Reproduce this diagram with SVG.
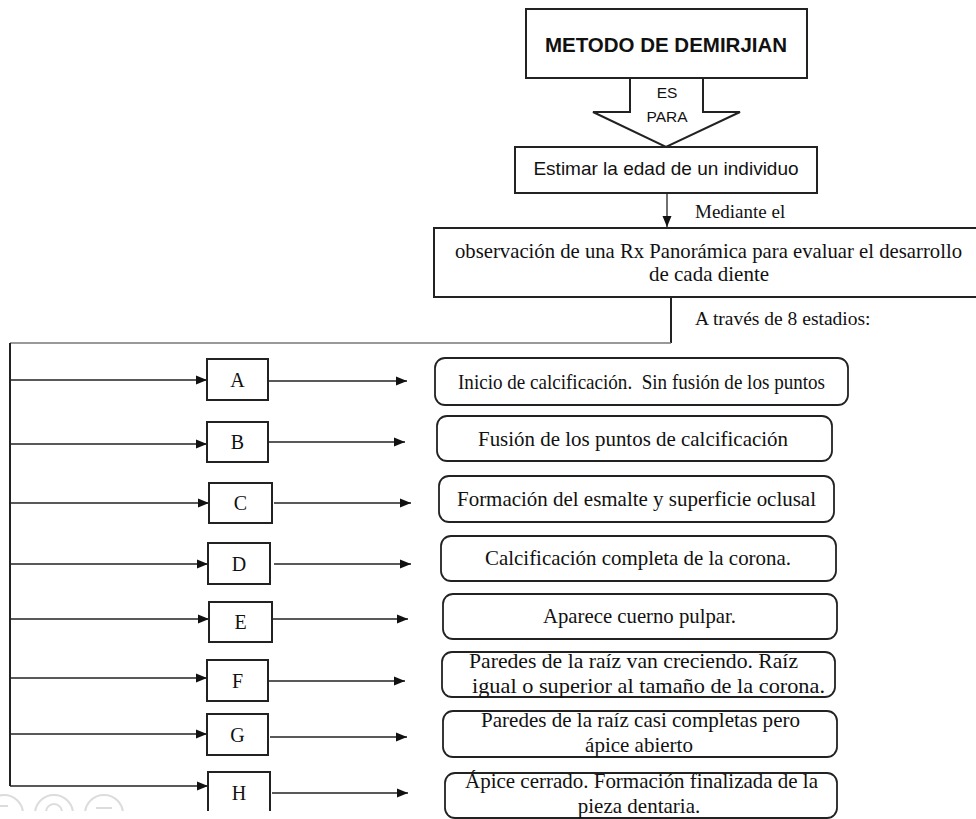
<svg xmlns="http://www.w3.org/2000/svg" width="976" height="819" viewBox="0 0 976 819">
<defs>
<marker id="ah" markerUnits="userSpaceOnUse" markerWidth="12" markerHeight="10" refX="11" refY="5" orient="auto">
<path d="M0,0.5 L11,5 L0,9.5 Z" fill="#111"/>
</marker>
<clipPath id="wm"><rect x="0" y="780" width="160" height="31"/></clipPath>
</defs>
<style>
.box{fill:#fff;stroke:#222;stroke-width:2}
.rbox{fill:#fff;stroke:#222;stroke-width:1.8}
.sans{font-family:"Liberation Sans",Arial,sans-serif;fill:#111}
.serif{font-family:"Liberation Serif","Times New Roman",serif;fill:#111}
.desc{font-size:21px}
.let{font-size:20px;text-anchor:middle}
.con{fill:none;stroke:#222;stroke-width:1.3}
.arr{fill:none;stroke:#222;stroke-width:1.3;marker-end:url(#ah)}
</style>
<rect width="976" height="819" fill="#fff"/>

<g id="watermark" clip-path="url(#wm)" fill="none" stroke="#dcdcdc" stroke-width="2">
<circle cx="4" cy="814" r="19"/>
<circle cx="54" cy="814" r="19"/>
<circle cx="54" cy="812" r="8"/>
<circle cx="104" cy="814" r="19"/>
<path d="M96,808 H112"/>
<path d="M0,806 H8"/>
</g>

<g id="metodo">
<rect class="box" x="526" y="9" width="281" height="69"/>
<text class="sans" x="666" y="52" font-size="20.5" font-weight="bold" text-anchor="middle">METODO DE DEMIRJIAN</text>
</g>

<g id="es-para">
<polygon points="630,78 630,112 593,112 666,147 740,112 703,112 703,78" fill="#fff" stroke="#222" stroke-width="2"/>
<text class="sans" x="667" y="98" font-size="15.5" text-anchor="middle">ES</text>
<text class="sans" x="667" y="122" font-size="15.5" text-anchor="middle">PARA</text>
</g>

<g id="estimar">
<rect class="box" x="515" y="147" width="302" height="46"/>
<text class="sans" x="666" y="175" font-size="19" text-anchor="middle">Estimar la edad de un individuo</text>
</g>

<g id="observacion">
<rect class="box" x="434" y="228" width="546" height="69"/>
<text class="serif desc" x="455" y="258" textLength="507" lengthAdjust="spacingAndGlyphs">observación de una Rx Panorámica para evaluar el desarrollo</text>
<text class="serif desc" x="709" y="281" text-anchor="middle">de cada diente</text>
</g>

<g id="connectors">
<line class="arr" x1="667" y1="193" x2="667" y2="227"/>
<line x1="671" y1="297" x2="671" y2="343" stroke="#222" stroke-width="2"/>
<line x1="671" y1="343" x2="10" y2="343" stroke="#777" stroke-width="1.5"/>
<line x1="10" y1="343" x2="10" y2="786" stroke="#222" stroke-width="2"/>
<line class="arr" x1="10" y1="380" x2="207" y2="380"/>
<line class="arr" x1="269" y1="381" x2="407" y2="381"/>
<line class="arr" x1="10" y1="444" x2="207" y2="444"/>
<line class="arr" x1="268" y1="442" x2="405" y2="442"/>
<line class="arr" x1="10" y1="503" x2="209" y2="503"/>
<line class="arr" x1="274" y1="503" x2="411" y2="503"/>
<line class="arr" x1="10" y1="564" x2="208" y2="564"/>
<line class="arr" x1="274" y1="564" x2="411" y2="564"/>
<line class="arr" x1="10" y1="619" x2="209" y2="619"/>
<line class="arr" x1="272" y1="619" x2="408" y2="619"/>
<line class="arr" x1="10" y1="678" x2="207" y2="678"/>
<line class="arr" x1="268" y1="681" x2="405" y2="681"/>
<line class="arr" x1="10" y1="734" x2="207" y2="734"/>
<line class="arr" x1="270" y1="737" x2="407" y2="737"/>
<line class="arr" x1="10" y1="786" x2="208" y2="786"/>
<line class="arr" x1="272" y1="793" x2="408" y2="793"/>
<text class="serif" x="695" y="218" font-size="19">Mediante el</text>
<text class="serif" x="695" y="325" font-size="19.5">A través de 8 estadios:</text>
</g>

<g id="stage-A">
<rect class="box" x="207" y="359" width="61" height="41"/>
<text class="serif let" x="237.5" y="387">A</text>
</g>
<g id="stage-B">
<rect class="box" x="207" y="422" width="61" height="40"/>
<text class="serif let" x="237.5" y="449">B</text>
</g>
<g id="stage-C">
<rect class="box" x="209" y="483" width="63" height="40"/>
<text class="serif let" x="240.5" y="510">C</text>
</g>
<g id="stage-D">
<rect class="box" x="208" y="543" width="62" height="41"/>
<text class="serif let" x="239" y="571">D</text>
</g>
<g id="stage-E">
<rect class="box" x="209" y="602" width="63" height="40"/>
<text class="serif let" x="240.5" y="629">E</text>
</g>
<g id="stage-F">
<rect class="box" x="207" y="660" width="61" height="41"/>
<text class="serif let" x="237.5" y="688">F</text>
</g>
<g id="stage-G">
<rect class="box" x="207" y="714" width="61" height="41"/>
<text class="serif let" x="237.5" y="742">G</text>
</g>
<g id="stage-H">
<path d="M208,811 V772 H270 V811" fill="#fff" stroke="#222" stroke-width="2"/>
<text class="serif let" x="239" y="800">H</text>
</g>

<g id="desc-A">
<rect class="rbox" x="435" y="358" width="413" height="47" rx="10"/>
<text class="serif desc" x="458" y="389" textLength="367" lengthAdjust="spacingAndGlyphs" xml:space="preserve">Inicio de calcificación.  Sin fusión de los puntos</text>
</g>
<g id="desc-B">
<rect class="rbox" x="437" y="416" width="395" height="45" rx="10"/>
<text class="serif desc" x="478" y="446" textLength="310" lengthAdjust="spacingAndGlyphs">Fusión de los puntos de calcificación</text>
</g>
<g id="desc-C">
<rect class="rbox" x="439" y="476" width="395" height="46" rx="10"/>
<text class="serif desc" x="457" y="506" textLength="359" lengthAdjust="spacingAndGlyphs">Formación del esmalte y superficie oclusal</text>
</g>
<g id="desc-D">
<rect class="rbox" x="441" y="536" width="395" height="45" rx="10"/>
<text class="serif desc" x="485" y="565" textLength="306" lengthAdjust="spacingAndGlyphs">Calcificación completa de la corona.</text>
</g>
<g id="desc-E">
<rect class="rbox" x="443" y="594" width="394" height="45" rx="10"/>
<text class="serif desc" x="543" y="623" textLength="193" lengthAdjust="spacingAndGlyphs">Aparece cuerno pulpar.</text>
</g>
<g id="desc-F">
<rect class="rbox" x="442" y="652" width="393" height="45" rx="10"/>
<text class="serif desc" x="469" y="668" textLength="329" lengthAdjust="spacingAndGlyphs">Paredes de la raíz van creciendo. Raíz</text>
<text class="serif desc" x="472" y="693" textLength="353" lengthAdjust="spacingAndGlyphs">igual o superior al tamaño de la corona.</text>
</g>
<g id="desc-G">
<rect class="rbox" x="443" y="711" width="394" height="46" rx="10"/>
<text class="serif desc" x="481" y="727" textLength="319" lengthAdjust="spacingAndGlyphs">Paredes de la raíz casi completas pero</text>
<text class="serif desc" x="639" y="752" text-anchor="middle">ápice abierto</text>
</g>
<g id="desc-H">
<rect class="rbox" x="445" y="773" width="392" height="45" rx="10"/>
<text class="serif desc" x="465" y="788" textLength="353" lengthAdjust="spacingAndGlyphs">Ápice cerrado. Formación finalizada de la</text>
<text class="serif desc" x="639" y="813" text-anchor="middle">pieza dentaria.</text>
</g>
</svg>
